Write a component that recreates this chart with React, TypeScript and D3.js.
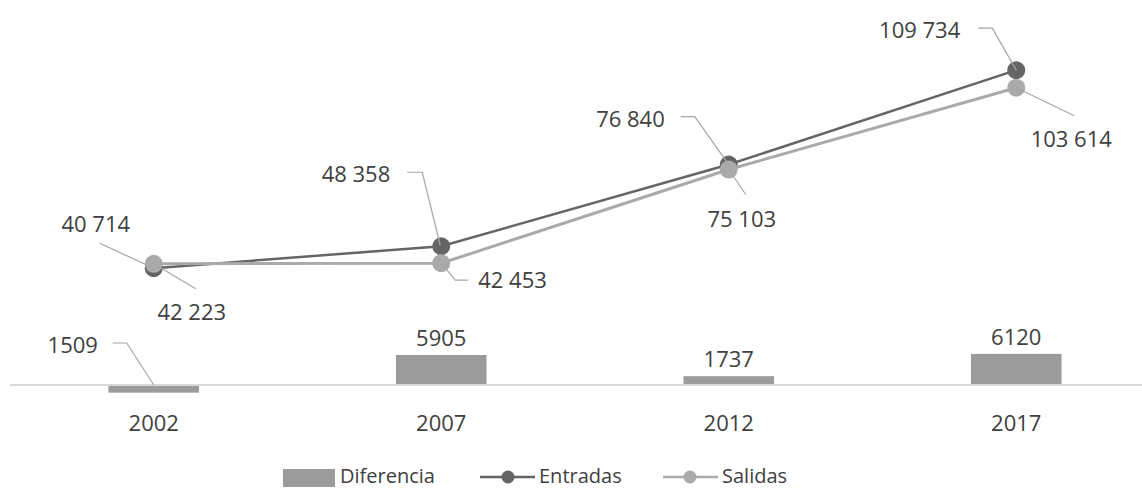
import React from 'react';
import * as d3 from 'd3';

const years = ['2002', '2007', '2012', '2017'];
const entradas = [40714, 48358, 76840, 109734];
const salidas = [42223, 42453, 75103, 103614];
const diferencia = [-1509, 5905, 1737, 6120];

const fmt = (v: number) => d3.format(',')(Math.abs(v)).replace(/,/g, ' ');
const fmtBar = (v: number) => String(Math.abs(v));

// label placement relative to each point: text anchor offset + leader polyline
type Lbl = { anchor: 'start' | 'middle' | 'end'; dx: number; dy: number; leader: [number, number][] };

const entradasLbl: Lbl[] = [
  { anchor: 'middle', dx: -58, dy: -36, leader: [[-54, -25], [0, 0]] },
  { anchor: 'end', dx: -51, dy: -64, leader: [[-34, -74], [-19, -74], [-1, -1]] },
  { anchor: 'end', dx: -64, dy: -38, leader: [[-48, -48], [-34, -48], [0, 0]] },
  { anchor: 'end', dx: -56, dy: -32, leader: [[-38, -42], [-24, -42], [0, 0]] },
];
const salidasLbl: Lbl[] = [
  { anchor: 'middle', dx: 38, dy: 56, leader: [[0, 0], [42, 25]] },
  { anchor: 'start', dx: 37, dy: 25, leader: [[0, 0], [14, 17], [27, 17]] },
  { anchor: 'middle', dx: 13, dy: 57, leader: [[0, 0], [17, 25]] },
  { anchor: 'middle', dx: 55, dy: 59, leader: [[0, 0], [58, 28]] },
];
const negBarLbl: Lbl = { anchor: 'middle', dx: -81, dy: -32, leader: [[-41, -42], [-27, -42], [0, 0]] };

const W = 1142;
const H = 489;
const TEXT = '#404040';
const LEADER = '#a6a6a6';
const C_ENT = '#656565';
const C_SAL = '#aaaaaa';
const C_BAR = '#9b9b9b';

export default function App() {
  const x = d3.scaleBand<string>().domain(years).range([10, 1160]).padding(0);
  const cx = (y: string) => (x(y) as number) + x.bandwidth() / 2;
  const yLine = d3.scaleLinear().domain([0, 120000]).range([385, 40.7]);
  const yBar = d3.scaleLinear().domain([0, 10000]).range([385, 334.2]);
  const barW = x.bandwidth() * 0.315;

  const line = d3
    .line<number>()
    .x((_, i) => cx(years[i]))
    .y((d) => yLine(d));

  const leaderPath = (px: number, py: number, pts: [number, number][]) =>
    d3.line()(pts.map(([a, b]) => [px + a, py + b]) as [number, number][]) as string;

  const font = { fontFamily: '"Open Sans", sans-serif' };

  const renderLabels = (vals: number[], lbls: Lbl[], key: string) =>
    vals.map((v, i) => {
      const px = cx(years[i]);
      const py = yLine(v);
      const l = lbls[i];
      return (
        <g key={key + i}>
          <path d={leaderPath(px, py, l.leader)} fill="none" stroke={LEADER} strokeWidth={1.2} />
          <text x={px + l.dx} y={py + l.dy} textAnchor={l.anchor} fontSize={22} fill={TEXT} style={font}>
            {fmt(v)}
          </text>
        </g>
      );
    });

  return (
    <svg width={W} height={H} style={{ position: 'absolute', left: 0, top: 0, display: 'block' }}>
      <rect width={W} height={H} fill="#ffffff" />

      {/* diferencia bars */}
      {diferencia.map((v, i) => {
        const top = Math.min(yBar(v), yBar(0));
        const h = Math.abs(yBar(v) - yBar(0));
        return <rect key={'b' + i} x={cx(years[i]) - barW / 2} y={top} width={barW} height={h} fill={C_BAR} />;
      })}

      <line x1={10} x2={1160} y1={yBar(0)} y2={yBar(0)} stroke="#d9d9d9" strokeWidth={2} />

      {diferencia.map((v, i) => {
        const px = cx(years[i]);
        if (v < 0) {
          const py = yBar(0);
          return (
            <g key={'bl' + i}>
              <path d={leaderPath(px, py, negBarLbl.leader)} fill="none" stroke={LEADER} strokeWidth={1.2} />
              <text x={px + negBarLbl.dx} y={py + negBarLbl.dy} textAnchor="middle" fontSize={22} fill={TEXT} style={font}>
                {fmtBar(v)}
              </text>
            </g>
          );
        }
        return (
          <text key={'bl' + i} x={px} y={yBar(v) - 9} textAnchor="middle" fontSize={22} fill={TEXT} style={font}>
            {fmtBar(v)}
          </text>
        );
      })}

      {/* category labels */}
      {years.map((y) => (
        <text key={'c' + y} x={cx(y)} y={431} textAnchor="middle" fontSize={22} fill={TEXT} style={font}>
          {y}
        </text>
      ))}

      {/* lines */}
      <path d={line(entradas) as string} fill="none" stroke={C_ENT} strokeWidth={2.5} />
      {entradas.map((v, i) => (
        <circle key={'e' + i} cx={cx(years[i])} cy={yLine(v)} r={9} fill={C_ENT} />
      ))}
      <path d={line(salidas) as string} fill="none" stroke={C_SAL} strokeWidth={3} />
      {salidas.map((v, i) => (
        <circle key={'s' + i} cx={cx(years[i])} cy={yLine(v)} r={9} fill={C_SAL} />
      ))}

      {renderLabels(entradas, entradasLbl, 'le')}
      {renderLabels(salidas, salidasLbl, 'ls')}

      {/* legend */}
      <g style={font} fontSize={20} fill={TEXT}>
        <rect x={283} y={469} width={52} height={18} fill={C_BAR} />
        <text x={340} y={483}>Diferencia</text>
        <line x1={480} x2={535} y1={477} y2={477} stroke={C_ENT} strokeWidth={2.5} />
        <circle cx={508} cy={477} r={6.5} fill={C_ENT} />
        <text x={539} y={483}>Entradas</text>
        <line x1={663} x2={718} y1={477} y2={477} stroke={C_SAL} strokeWidth={2.5} />
        <circle cx={690} cy={477} r={6.5} fill={C_SAL} />
        <text x={722} y={483}>Salidas</text>
      </g>
    </svg>
  );
}
